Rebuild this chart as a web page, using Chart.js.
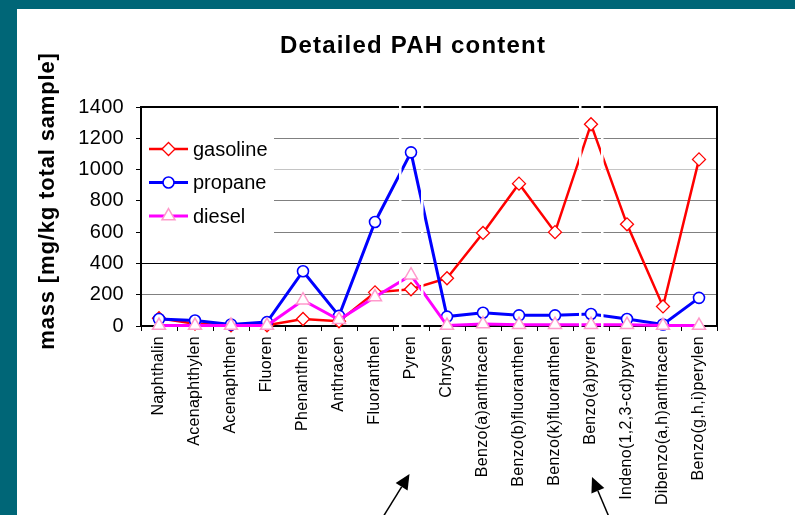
<!DOCTYPE html>
<html>
<head>
<meta charset="utf-8">
<script src="https://cdn.jsdelivr.net/npm/chart.js@4.4.0/dist/chart.umd.min.js"></script>
<style>
  body { margin: 0; background: #006677; width: 795px; height: 515px; overflow: hidden; }
  #box { position: absolute; left: 17px; top: 9px; width: 778px; height: 506px; background: #fff; }
</style>
</head>
<body>
<div id="box"><canvas id="myChart" width="778" height="506"></canvas></div>
<script>
// dane z wykresu
const categories = ['Naphthalin', 'Acenaphthylen', 'Acenaphthen', 'Fluoren', 'Phenanthren', 'Anthracen',
  'Fluoranthen', 'Pyren', 'Chrysen', 'Benzo(a)anthracen', 'Benzo(b)fluoranthen', 'Benzo(k)fluoranthen',
  'Benzo(a)pyren', 'Indeno(1,2,3-cd)pyren', 'Dibenzo(a,h)anthracen', 'Benzo(g,h,i)perylen']
const gasoline = [50, 15, 5, 5, 45, 30, 215, 235, 305, 595, 910, 600, 1290, 650, 125, 1065]
const propane = [45, 35, 10, 25, 350, 65, 665, 1110, 60, 85, 68, 68, 77, 45, 10, 180]
const diesel = [3, 3, 3, 3, 165, 40, 185, 325, 3, 12, 8, 8, 8, 8, 3, 3]
const yTicks = [0, 200, 400, 600, 800, 1000, 1200, 1400]

const title = 'Detailed PAH content'
const yTitle = 'mass [mg/kg total sample]'
const arrowTargets = ['Pyren', 'Benzo(a)pyren']

const font = '"Liberation Sans", Arial, sans-serif'
Chart.defaults.font.family = font
Chart.defaults.color = '#000'

// kolory linii siatki jak na obrazku
function gridColor(ctx) {
  const v = ctx.tick && ctx.tick.value
  if (v === 0 || v === 1400) return 'rgba(0,0,0,0)'
  if (v === 400) return '#000000'
  if (v === 1000) return '#c4c4c4'
  return '#808080'
}

function arrow(ctx, x1, y1, x2, y2) {
  const dx = x2 - x1, dy = y2 - y1
  const len = Math.sqrt(dx * dx + dy * dy)
  const ux = dx / len, uy = dy / len
  const bx = x2 - ux * 15, by = y2 - uy * 15
  ctx.beginPath()
  ctx.moveTo(x1, y1)
  ctx.lineTo(bx, by)
  ctx.stroke()
  ctx.beginPath()
  ctx.moveTo(x2, y2)
  ctx.lineTo(bx - uy * 7, by + ux * 7)
  ctx.lineTo(bx + uy * 7, by - ux * 7)
  ctx.closePath()
  ctx.fill()
}

const rysunek = {
  id: 'rysunek',
  beforeDraw(chart) {
    chart.ctx.letterSpacing = '0.3px'
  },
  beforeDatasetsDraw(chart) {
    const a = chart.chartArea, ctx = chart.ctx
    ctx.save()
    ctx.strokeStyle = '#000'
    ctx.lineWidth = 2
    ctx.strokeRect(a.left, a.top, a.right - a.left, a.bottom - a.top)
    ctx.restore()
  },
  afterDatasetsDraw(chart) {
    // biale przerwy kolo Pyren i Benzo(a)pyren
    const a = chart.chartArea, ctx = chart.ctx, x = chart.scales.x
    ctx.save()
    ctx.fillStyle = '#fff'
    arrowTargets.forEach(function (c) {
      const px = x.getPixelForValue(categories.indexOf(c))
      ctx.fillRect(px - 12, a.top - 2, 2.5, a.bottom - a.top + 4)
      ctx.fillRect(px + 10, a.top - 2, 2.5, a.bottom - a.top + 4)
    })
    ctx.restore()
  },
  afterDraw(chart) {
    const ctx = chart.ctx, a = chart.chartArea, x = chart.scales.x
    ctx.save()
    ctx.fillStyle = '#000'
    ctx.letterSpacing = '1.2px'
    ctx.font = 'bold 24px ' + font
    ctx.textAlign = 'center'
    ctx.textBaseline = 'alphabetic'
    ctx.fillText(title, 396, 44)

    ctx.save()
    ctx.letterSpacing = '0.85px'
    ctx.font = 'bold 22px ' + font
    ctx.translate(37, 192)
    ctx.rotate(-Math.PI / 2)
    ctx.fillText(yTitle, 0, 0)
    ctx.restore()

    // legenda
    ctx.fillStyle = '#fff'
    ctx.fillRect(a.left + 1, a.top + 3, 132, 140)
    ctx.letterSpacing = '0px'
    ctx.font = '20px ' + font
    ctx.textAlign = 'left'
    chart.data.datasets.forEach(function (ds, i) {
      const y = 140 + i * 33.5
      ctx.strokeStyle = ds.borderColor
      ctx.lineWidth = ds.borderWidth
      ctx.beginPath()
      ctx.moveTo(132, y)
      ctx.lineTo(171, y)
      ctx.stroke()
      ctx.fillStyle = '#fff'
      ctx.strokeStyle = ds.pointBorderColor
      ctx.lineWidth = ds.pointBorderWidth
      Chart.helpers.drawPoint(ctx, { pointStyle: ds.pointStyle, radius: ds.pointRadius, rotation: 0, borderWidth: ds.pointBorderWidth }, 151.5, y)
      ctx.fillStyle = '#000'
      ctx.fillText(ds.label, 176, y + 6.5)
    })

    // strzalki
    ctx.strokeStyle = '#000'
    ctx.fillStyle = '#000'
    ctx.lineWidth = 1.5
    const p1 = x.getPixelForValue(categories.indexOf(arrowTargets[0]))
    const p2 = x.getPixelForValue(categories.indexOf(arrowTargets[1]))
    arrow(ctx, p1 - 28, 508, p1 - 1.5, 465)
    arrow(ctx, p2 + 18, 508, p2 + 1, 468)
    ctx.restore()
  }
}

const ctx = document.getElementById('myChart')

new Chart(ctx, {
  type: 'line',
  data: {
    labels: categories,
    datasets: [{
      label: 'gasoline',
      data: gasoline,
      borderColor: '#ff0000',
      borderWidth: 2.5,
      pointStyle: 'rectRot',
      pointRadius: 6.5,
      pointBorderWidth: 1.3,
      pointBorderColor: '#ff0000',
      pointBackgroundColor: '#fff',
      order: 3
    }, {
      label: 'propane',
      data: propane,
      borderColor: '#0000ff',
      borderWidth: 3,
      pointStyle: 'circle',
      pointRadius: 5.5,
      pointBorderWidth: 1.6,
      pointBorderColor: '#0000ff',
      pointBackgroundColor: '#fff',
      order: 2
    }, {
      label: 'diesel',
      data: diesel,
      borderColor: '#ff00ff',
      borderWidth: 3,
      pointStyle: 'triangle',
      pointRadius: 7.5,
      pointBorderWidth: 1.5,
      pointBorderColor: '#ff99cc',
      pointBackgroundColor: '#fff',
      order: 1
    }]
  },
  options: {
    responsive: false,
    devicePixelRatio: 1,
    animation: false,
    layout: { padding: { top: 98, right: 78, left: 0, bottom: 0 } },
    elements: { line: { tension: 0 } },
    datasets: { line: { clip: false } },
    plugins: {
      legend: { display: false },
      title: { display: false },
      tooltip: { enabled: false }
    },
    scales: {
      x: {
        offset: true,
        grid: { offset: true, drawOnChartArea: false, drawTicks: true, tickLength: 5, tickColor: '#000', tickWidth: 1 },
        border: { display: false },
        ticks: { autoSkip: false, maxRotation: 90, minRotation: 90, font: { size: 16 }, padding: 5 },
        afterFit(scale) { scale.height = 189 }
      },
      y: {
        min: 0,
        max: 1400,
        afterBuildTicks(scale) { scale.ticks = yTicks.map(v => ({ value: v })) },
        grid: { color: gridColor, lineWidth: 1, drawTicks: true, tickLength: 5, tickColor: '#000', tickWidth: 1 },
        border: { display: false },
        ticks: { font: { size: 20 }, padding: 12, callback: v => String(v) },
        afterFit(scale) { scale.width = 124 }
      }
    }
  },
  plugins: [rysunek]
})
</script>
</body>
</html>
